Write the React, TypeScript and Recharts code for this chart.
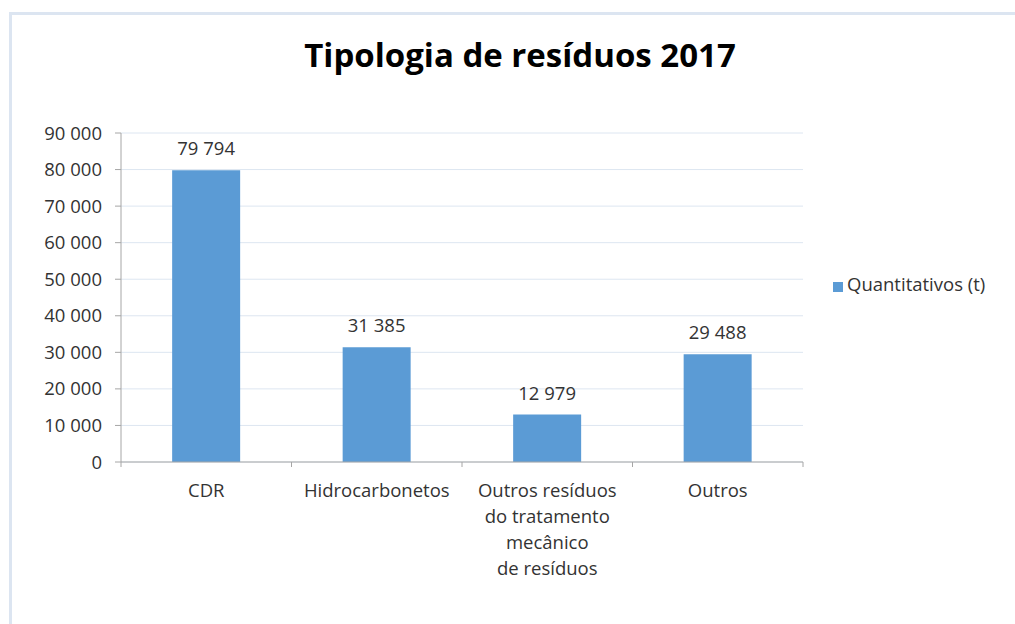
import React from 'react';
import { BarChart, Bar, XAxis, YAxis, CartesianGrid, Legend, LabelList } from 'recharts';

const categories = [
  'CDR',
  'Hidrocarbonetos',
  'Outros resíduos\ndo tratamento\nmecânico\nde resíduos',
  'Outros',
];
const quantities = [79794, 31385, 12979, 29488];
const yTicks = [0, 10000, 20000, 30000, 40000, 50000, 60000, 70000, 80000, 90000];
const seriesName = 'Quantitativos (t)';

const data = categories.map((name, i) => ({ name, value: quantities[i] }));

const FONT = '"Open Sans", "Noto Sans", sans-serif';
const TEXT = '#333333';
const AXIS = '#a6a6a6';
const FS = 18.5;

const fmt = (v: number) => String(v).replace(/\B(?=(\d{3})+(?!\d))/g, ' ');

const CategoryTick = (props: any) => {
  const { x, y, payload, index, visibleTicksCount } = props;
  const half = payload && payload.offset ? payload.offset : 85;
  const lines = String(payload.value).split('\n');
  return (
    <g>
      <line x1={x - half} x2={x - half} y1={y} y2={y + 5} stroke={AXIS} />
      {index === visibleTicksCount - 1 && (
        <line x1={x + half} x2={x + half} y1={y} y2={y + 5} stroke={AXIS} />
      )}
      <text x={x} y={y + 35} textAnchor="middle" fill={TEXT} fontSize={FS} fontFamily={FONT}>
        {lines.map((l, i) => (
          <tspan key={i} x={x} dy={i === 0 ? 0 : 26}>
            {l}
          </tspan>
        ))}
      </text>
    </g>
  );
};

export default function App() {
  return (
    <div style={{ position: 'fixed', left: 0, top: 0, width: 1015, height: 624, overflow: 'hidden', background: '#fff' }}>
      <div
        style={{
          position: 'absolute',
          left: 9,
          top: 12,
          width: 1100,
          height: 700,
          borderTop: '3px solid #dce5f1',
          borderLeft: '3px solid #dce5f1',
        }}
      />
      <div
        style={{
          position: 'absolute',
          left: 0,
          width: 1040,
          top: 32,
          textAlign: 'center',
          fontFamily: FONT,
          fontWeight: 700,
          fontSize: 33,
          color: '#000',
        }}
      >
        Tipologia de resíduos 2017
      </div>
      <div style={{ position: 'absolute', left: 0, top: 0 }}>
        <BarChart
          width={1015}
          height={624}
          data={data}
          margin={{ top: 133, right: 212, bottom: 0, left: 0 }}
          barCategoryGap="30%"
        >
          <CartesianGrid vertical={false} stroke="#dde6f1" />
          <XAxis
            dataKey="name"
            height={162}
            interval={0}
            tickLine={false}
            tickSize={0}
            tickMargin={0}
            axisLine={{ stroke: AXIS }}
            tick={<CategoryTick />}
          />
          <YAxis
            width={121}
            domain={[0, 90000]}
            ticks={yTicks}
            interval={0}
            tickSize={6}
            tickMargin={13}
            tickFormatter={fmt}
            axisLine={{ stroke: AXIS }}
            tickLine={{ stroke: AXIS }}
            tick={{ fill: TEXT, fontSize: FS, fontFamily: FONT }}
          />
          <Legend
            layout="horizontal"
            verticalAlign="middle"
            align="center"
            iconType="square"
            iconSize={10}
            formatter={(v: string) => (
              <span style={{ color: TEXT, fontSize: FS, fontFamily: FONT }}>{v}</span>
            )}
            wrapperStyle={{ left: 833, top: 271, width: 'auto', margin: 0 }}
          />
          <Bar dataKey="value" name={seriesName} fill="#5b9bd5" isAnimationActive={false}>
            <LabelList
              dataKey="value"
              position="top"
              offset={15}
              formatter={(v: any) => fmt(Number(v))}
              fill={TEXT}
              fontSize={FS}
              fontFamily={FONT}
            />
          </Bar>
        </BarChart>
      </div>
    </div>
  );
}
